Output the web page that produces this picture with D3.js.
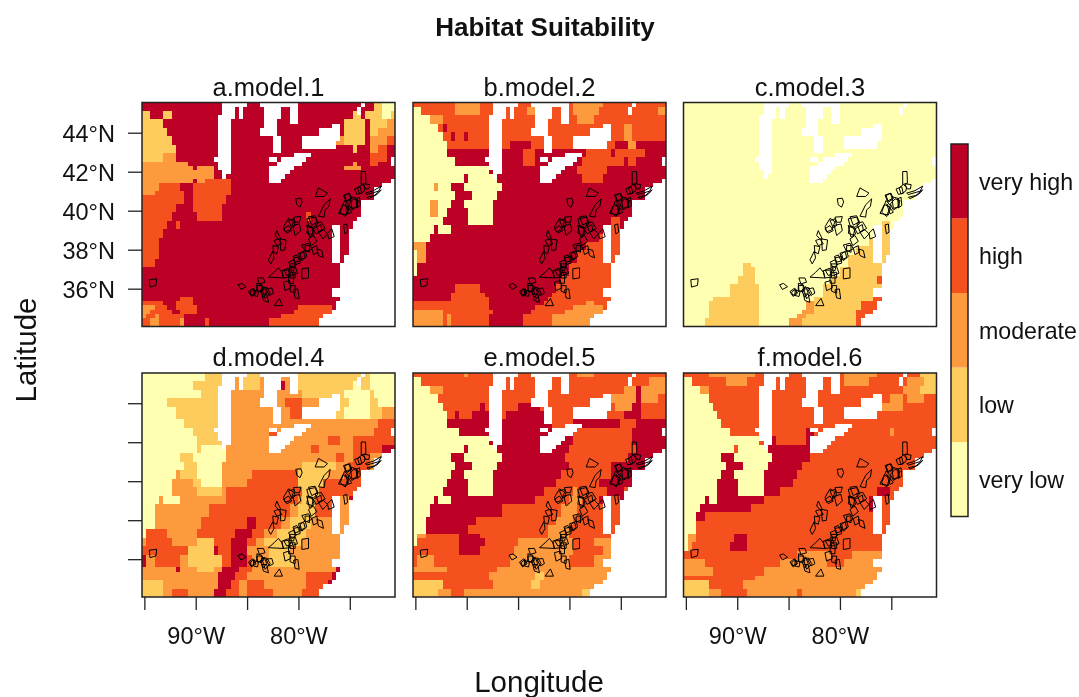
<!DOCTYPE html>
<html>
<head>
<meta charset="utf-8">
<script src="https://d3js.org/d3.v7.min.js"></script>
<style>
body { margin: 0; background: #fff; }
svg { display: block; filter: blur(0.45px); }
text { font-family: "Liberation Sans", Arial, sans-serif; fill: #111; }
</style>
</head>
<body>
<div id="chart"></div>
<script>
//classes, lowest first
var levels = ["very low", "low", "moderate", "high", "very high"]
var levelKeys = ["a", "b", "c", "d", "e"]
var levelColors = ["#FFFFB2", "#FECC5C", "#FD9A3E", "#F4511F", "#BD0026"]

var panelTitles = ["a.model.1", "b.model.2", "c.model.3", "d.model.4", "e.model.5", "f.model.6"]
var latTicks = [36, 38, 40, 42, 44]
var lonTicks = [-95, -90, -85, -80, -75]
var lonLabels = {"-90": "90°W", "-80": "80°W"}

//raster rows, top to bottom: [how many grid rows, class letter + end column, ...]
var rowsA = [[2,"e55b57a60"],[2,"b2e5b7e50b52e53b57a59b60"],[2,"b5e48b53e54b58c60"],[2,"b6e48b53e54b56c60"],[2,"b7e46c48b53e54c58d60"],[2,"b8e50b51e54c56d58e60"],[2,"b5c8e54d58e60"],[1,"c11e50c51e54d56e60"],[1,"c12e13c17e48c52e60"],[2,"c17e60"],[1,"c12e13c15d21e60"],[2,"c4d9e12d21e60"],[1,"c3d10e12d21e60"],[2,"d10e12d20e60"],[2,"d8e12d19e60"],[2,"d7e13d19e39d40e60"],[2,"d6e8d9e60"],[2,"d5e60"],[5,"d4e60"],[2,"d3e60"],[7,"e60"],[1,"e9d12e60"],[1,"d5e8d12e46c48e60"],[1,"c3d6e8d13e37d45e60"],[1,"c2d7e9d13e36d45e60"],[1,"c1d3c4d10e33d43e60"],[2,"d2c4d9c10e15d16e30d42e60"]]
var rowsB = [[1,"d10c16d38c45d60"],[2,"a2d10c16d27c29d38c44d58c60"],[2,"a4c7d39c43d60"],[2,"a6d7e8d50c52d60"],[2,"a7d9e10d12e13d50c52d60"],[2,"a8d23e28d48e51c53e60"],[2,"a8e26d29e41d47e48d55e60"],[2,"a10e26d29e40d50e51d53e60"],[2,"a18e39d46e60"],[2,"a12e13a20e40d45e60"],[2,"a5c6a9e12a21e60"],[2,"a10e14a20e60"],[2,"a4c6a9e12a19e60"],[2,"a4c6a8e13a19e60"],[2,"a7e13a19e47d49e60"],[2,"a5e6a9e45d49e60"],[2,"a4e44d60"],[2,"c3e41d60"],[3,"a1c3e39d60"],[3,"a1e37d60"],[2,"e35d60"],[2,"e10d16e34d60"],[1,"e9d17e33d60"],[1,"e9d18e32d60"],[1,"d18e31d41c43d60"],[1,"d18e29d38c45d60"],[1,"c7d19e28d36c45d60"],[3,"c7d8c9d18e26d33c43d60"]]
var rowsC = [[28,"a60"],[4,"a47b49a60"],[2,"a44b49a60"],[2,"a41b49a60"],[2,"a39b49a60"],[1,"a14b16a39b60"],[2,"a14b17a37b60"],[2,"a13b17a35b46d47b60"],[3,"a11b18a33b60"],[1,"a7b18a31b45d47b60"],[2,"a6b18a29c31b42d46b60"],[1,"a6b18a28c31b41d45b60"],[1,"a6b18a27c29b41d43b60"],[2,"a5b18a25c28b41d43b60"]]
var rowsD = [[2,"a15b19c24b28c37b54a60"],[2,"a12b22c24b28c33e34c37b50a52b54a60"],[2,"a14b20c38b48a54b55a60"],[2,"a6b20c34d38c46b49a54b56a60"],[3,"a8b20c35d39c46b48a54b57c60"],[2,"a10b19c56d60"],[2,"a12b18c30d32c55d60"],[2,"a13b20c44d47c50d60"],[2,"a13b14a20c40d42c50d57e60"],[2,"a9b12a20c46d48c50d54c60"],[2,"a10b13a19c38b46c49d54c60"],[2,"a8c9b13a19c26d37b44c48d54e60"],[2,"a7c12b14a19c25d37b43d54e60"],[2,"a7c13b19c20d38b42d54e60"],[2,"a4c5a9c20d37c38b41d45c49e60"],[3,"a3c16d35c37b41d45c49e60"],[3,"a3c14d25e27d33c35b40c60"],[2,"a1d6c13d22e26d29c32b39c60"],[2,"c1d7c13b17d21e25d27c29b38c60"],[2,"d11b17e18d21e25c30b35c47d60"],[3,"e1c3d9c11b19d21e25d26c30b36c47e60"],[1,"c8e9c13b17c19e23d26c46e60"],[2,"c18e22d25c39d45e60"],[2,"b5c18e21d23c25d29c39d44e60"],[2,"b5c7d11c17e20d23c25d31c38d42c60"]]
var rowsE = [[1,"d12c13d39c43d60"],[2,"a2d56c60"],[2,"a4c7d50c53e54c60"],[2,"a6d47c53e54c58d60"],[2,"a7d16e17d25e30d48c52e54d60"],[2,"a8d10e11d14e18d22e32d50e54d60"],[2,"a8e33d38e49d53e60"],[2,"a11e33d52e60"],[2,"a18e38d52e60"],[2,"a12e13a20e37d53e60"],[2,"a9e12a21e36d51e60"],[2,"a10e14a20e37d47e60"],[2,"a9e12a19e35d47e60"],[2,"a8e13a19e34d44e52d60"],[2,"a7e13a19e31d38c39d46e50d60"],[2,"a5e6a9e29d37c40d44e46d49e60"],[3,"a4e21d35c39d60"],[2,"a3e15d34c38d60"],[2,"a3e13d32c37d60"],[1,"a1c3d11e16d32c37d60"],[2,"a1d11e17d25c38d43c60"],[2,"d11e16d24c38d45c60"],[3,"d1c5d23c37d43c60"],[1,"c8d20c60"],[2,"d18c29b31c60"],[2,"b7d19c28b30c60"],[2,"b6c9d12c40b42c60"]]
var rowsF = [[1,"d6c17d38c46d56b60"],[2,"a2d10c15d38c44d53c57b60"],[2,"a4c6d52c56b60"],[2,"a6d49c52d53c57d60"],[2,"a7d47c52d60"],[2,"a8d60"],[2,"a9d60"],[2,"a11d29e31d49c50d60"],[2,"a18d20e22d29e31d60"],[2,"a12d13a20e30d60"],[2,"a9e12a21e30d60"],[2,"a10e14a20e28d60"],[2,"a9e12a19e27d60"],[2,"a8e13a19e26d60"],[2,"a8e13a19e23d46e49d60"],[2,"a5e6a8e19d44e46d60"],[2,"a4e16d44e45d60"],[2,"a3e5d60"],[3,"a3d60"],[2,"a1c3d12e15d60"],[2,"a1c2d11e15d60"],[2,"d27c35d40c60"],[2,"c5d23c34d38c60"],[2,"c7d19c60"],[1,"d17c60"],[2,"b6d14c60"],[2,"b6c9d15c27d28c41b43c60"]]
var panelRows = [rowsA, rowsB, rowsC, rowsD, rowsE, rowsF]

//no data cells (lakes and ocean), same in every panel: w = no data, o = keep
var waterRows = [[1,"o19w25o28w37o52w53o60"],[2,"o19w22o23w24o29w33o35w37o51w52o60"],[1,"o18w22o23w24o29w33o35w37o60"],[1,"o18w21o29w32o35w37o60"],[1,"o18w21o29w32o45w47o60"],[2,"o18w21o28w32o42w47o60"],[1,"o18w21o31w33o38w47o60"],[2,"o18w21o31w33o38w46o60"],[1,"o18w21o31w33o60"],[1,"o18w21o36w40o60"],[1,"o17w21o30w32o33w39o59w60"],[1,"o18w21o32w38o59w60"],[1,"o18w21o30w36o60"],[1,"o19w21o30w35o60"],[1,"o19w20o30w34o60"],[1,"o30w33o59w60"],[1,"o57w60"],[3,"o55w60"],[4,"o52w60"],[1,"o51w60"],[1,"o50w60"],[1,"o45w47o50w60"],[6,"o45w47o49w60"],[2,"o45w47o48w60"],[6,"o47w60"],[2,"o45w60"],[1,"o47w60"],[2,"o46w60"],[1,"o45w60"],[1,"o43w60"],[2,"o42w60"]]

//site outlines, lon/lat, drawn in every panel
var sites = [
[[-78.37,40.73],[-78.05,41.17],[-77.17,40.90],[-77.50,40.73]],
[[-80.26,40.61],[-79.77,40.64],[-79.64,40.44],[-79.84,40.18],[-80.16,40.30]],
[[-78.05,39.72],[-77.50,40.30],[-76.91,40.61],[-77.04,40.21],[-77.40,40.04],[-77.50,39.67]],
[[-73.89,42.01],[-73.47,42.01],[-73.43,41.41],[-73.89,41.34]],
[[-74.25,41.17],[-73.82,41.34],[-73.50,41.20],[-73.60,41.00],[-74.05,40.86]],
[[-73.66,41.38],[-73.07,41.34],[-73.14,41.12],[-73.50,41.12]],
[[-73.50,40.90],[-72.69,41.03],[-71.94,41.26],[-72.20,41.00],[-73.33,40.83]],
[[-73.33,40.69],[-72.62,40.78],[-71.94,41.07],[-72.36,40.83],[-73.17,40.62]],
[[-75.51,40.78],[-75.03,40.90],[-74.80,40.61],[-75.29,40.44]],
[[-75.94,39.92],[-75.51,40.52],[-75.09,40.26],[-75.45,39.70]],
[[-75.09,40.35],[-74.64,40.61],[-74.15,40.52],[-74.37,40.18],[-74.80,40.04]],
[[-74.37,40.61],[-74.05,40.69],[-73.98,40.26],[-74.31,40.14]],
[[-75.45,40.35],[-75.12,40.14],[-74.80,39.92],[-75.12,39.84]],
[[-75.61,39.27],[-75.29,39.32],[-75.22,38.90],[-75.48,38.81]],
[[-79.19,39.58],[-78.37,39.67],[-78.11,39.32],[-78.54,39.15],[-79.02,39.24]],
[[-78.54,39.07],[-77.82,39.29],[-77.72,38.98],[-78.28,38.81]],
[[-79.19,39.24],[-78.70,39.15],[-78.47,38.81],[-78.92,38.64]],
[[-78.05,38.90],[-77.56,39.02],[-77.17,38.81],[-77.63,38.55]],
[[-77.17,38.85],[-76.75,39.07],[-76.52,38.67],[-77.07,38.55]],
[[-79.02,38.55],[-78.54,38.73],[-78.21,38.43],[-78.76,38.21]],
[[-79.35,38.21],[-78.92,38.21],[-78.92,37.87],[-79.35,37.96]],
[[-78.70,38.09],[-78.21,38.21],[-78.11,37.87],[-78.54,37.75]],
[[-78.21,38.04],[-77.72,37.96],[-77.56,37.58],[-78.05,37.70]],
[[-79.84,37.79],[-79.35,37.96],[-79.19,37.65],[-79.67,37.44]],
[[-80.48,37.58],[-79.84,37.65],[-79.84,37.31],[-80.32,37.24]],
[[-80.87,37.27],[-80.32,37.27],[-80.48,36.93],[-80.87,36.96]],
[[-82.92,36.59],[-82.37,36.84],[-81.95,37.07],[-81.62,36.84],[-81.46,36.55]],
[[-81.62,36.93],[-80.97,36.96],[-80.81,36.59],[-81.46,36.55]],
[[-80.87,36.84],[-80.32,36.84],[-80.32,36.55],[-80.81,36.55]],
[[-81.46,36.33],[-80.87,36.42],[-80.74,36.04],[-81.30,35.90]],
[[-80.81,36.16],[-80.32,36.16],[-80.32,35.77],[-80.81,35.87]],
[[-79.67,37.02],[-79.02,37.07],[-79.02,36.55],[-79.67,36.50]],
[[-80.48,35.94],[-80.06,35.99],[-79.93,35.48],[-80.32,35.53]],
[[-81.46,39.07],[-80.97,39.24],[-80.65,38.98],[-81.14,38.85]],
[[-80.97,39.50],[-80.48,39.58],[-80.32,39.24],[-80.65,39.12]],
[[-80.48,39.67],[-79.77,39.70],[-79.90,39.41],[-80.32,39.41]],
[[-80.55,39.24],[-79.90,39.32],[-79.77,38.98],[-80.32,38.73]],
[[-82.37,38.47],[-81.95,38.55],[-81.62,38.30],[-82.11,38.21]],
[[-82.11,38.98],[-81.72,38.55],[-81.95,38.55],[-82.27,38.73]],
[[-81.79,38.55],[-81.20,38.50],[-81.33,37.99],[-81.72,37.96]],
[[-82.50,38.21],[-81.95,38.16],[-82.11,37.79],[-82.44,37.87]],
[[-82.92,37.48],[-82.50,37.92],[-82.37,37.58],[-82.70,37.27]],
[[-84.00,36.55],[-83.41,36.55],[-83.25,36.33],[-83.80,36.25]],
[[-84.06,36.16],[-83.57,36.16],[-83.57,35.82],[-84.06,35.90]],
[[-84.71,35.82],[-84.32,35.99],[-84.13,35.77],[-84.55,35.60]],
[[-83.74,35.90],[-83.34,36.11],[-83.09,35.77],[-83.41,35.56]],
[[-83.15,35.99],[-82.60,36.04],[-82.44,35.77],[-82.83,35.65]],
[[-83.57,35.73],[-83.09,35.73],[-82.92,35.30],[-83.41,35.39]],
[[-82.37,35.13],[-81.85,35.50],[-81.56,35.13]],
[[-85.88,36.20],[-85.50,36.27],[-85.10,36.10],[-85.60,35.96]],
[[-94.52,36.46],[-93.80,36.51],[-93.87,36.17],[-94.45,36.08]],
[[-81.45,36.96],[-80.96,37.05],[-80.74,36.79],[-81.13,36.67]],
[[-80.96,37.36],[-80.48,37.48],[-80.22,37.22],[-80.64,37.05]],
[[-80.54,37.65],[-80.15,37.73],[-79.89,37.42],[-80.31,37.36]],
[[-79.99,37.82],[-79.50,37.90],[-79.34,37.60],[-79.83,37.48]],
[[-79.67,38.24],[-79.02,38.33],[-78.69,38.04],[-79.34,37.90]],
[[-80.80,37.13],[-80.31,37.13],[-80.09,36.79],[-80.54,36.71]],
[[-80.96,36.71],[-80.48,36.67],[-80.48,36.28],[-80.96,36.28]],
[[-84.86,35.85],[-84.44,36.02],[-84.21,35.77],[-84.63,35.65]],
[[-84.05,36.28],[-83.56,36.19],[-83.40,35.94],[-83.98,35.85]],
[[-83.56,36.02],[-83.07,36.06],[-82.75,35.77],[-83.24,35.48]],
[[-84.37,35.94],[-83.89,35.85],[-83.98,35.60],[-84.37,35.65]],
[[-75.61,40.80],[-75.12,40.89],[-74.87,40.63],[-75.38,40.49]],
[[-76.10,39.86],[-75.68,40.32],[-75.06,40.15],[-75.29,39.78]],
[[-74.96,40.72],[-74.31,40.63],[-74.22,40.20],[-74.80,40.12]],
[[-74.54,41.11],[-73.99,41.23],[-73.83,40.89],[-74.31,40.84]],
[[-79.02,39.69],[-78.37,39.74],[-78.11,39.43],[-78.70,39.26]],
[[-78.37,39.35],[-77.79,39.43],[-77.40,39.09],[-78.05,38.92]],
[[-79.08,39.18],[-78.53,39.09],[-78.69,38.75],[-79.18,38.84]],
[[-81.45,39.18],[-80.96,39.61],[-80.48,39.43],[-80.80,39.01],[-81.29,38.92]]
]

//setting dimensions
var totalWidth = 1079, totalHeight = 697
var panelW = 253, panelH = 224
var panelX = [142, 413, 683.5], panelY = [102.5, 373]
var gridCols = 60, gridRows = 53

var svg = d3.select("#chart").append("svg")
  .attr("width", totalWidth)
  .attr("height", totalHeight)

//scales shared by all panels
var xLon = d3.scaleLinear().domain([-95.23, -70.6]).range([0, panelW])
var yLat = d3.scaleLinear().domain([45.55, 34.06]).range([0, panelH])
var xCol = d3.scaleLinear().domain([0, gridCols]).range([0, panelW])
var yRow = d3.scaleLinear().domain([0, gridRows]).range([0, panelH])
var color = d3.scaleOrdinal().domain(levelKeys).range(levelColors)

//turning [count, "e12d60"] rows into rectangles in grid units
function decodeRows(rows) {
  var out = [], row = 0
  rows.forEach(function(r) {
    var col = 0
    r[1].match(/[a-z]\d+/g).forEach(function(tok) {
      var end = +tok.slice(1)
      out.push({key: tok[0], col0: col, col1: end, row0: row, row1: row + r[0]})
      col = end
    })
    row += r[0]
  })
  return out
}

var water = decodeRows(waterRows).filter(function(d) { return d.key == "w" })
var sitePath = d3.line().x(function(d) { return xLon(d[0]) }).y(function(d) { return yLat(d[1]) })

panelTitles.forEach(function(title, i) {
  var c = i % 3, r = Math.floor(i / 3)
  var g = svg.append("g")
    .attr("transform", "translate(" + panelX[c] + "," + panelY[r] + ")")

  //clip so cells and outlines stay in the box
  g.append("clipPath").attr("id", "clip" + i)
    .append("rect").attr("width", panelW).attr("height", panelH)
  var body = g.append("g").attr("clip-path", "url(#clip" + i + ")")

  //raster cells
  body.selectAll(".cell")
    .data(decodeRows(panelRows[i]))
    .enter().append("rect")
    .attr("class", "cell")
    .attr("x", function(d) { return xCol(d.col0) })
    .attr("y", function(d) { return yRow(d.row0) })
    .attr("width", function(d) { return xCol(d.col1) - xCol(d.col0) })
    .attr("height", function(d) { return yRow(d.row1) - yRow(d.row0) })
    .attr("fill", function(d) { return color(d.key) })
    .attr("shape-rendering", "crispEdges")

  //white no data cells
  body.selectAll(".water")
    .data(water)
    .enter().append("rect")
    .attr("class", "water")
    .attr("x", function(d) { return xCol(d.col0) })
    .attr("y", function(d) { return yRow(d.row0) })
    .attr("width", function(d) { return xCol(d.col1) - xCol(d.col0) })
    .attr("height", function(d) { return yRow(d.row1) - yRow(d.row0) })
    .attr("fill", "#fff")
    .attr("shape-rendering", "crispEdges")

  //site outlines
  body.selectAll(".site")
    .data(sites)
    .enter().append("path")
    .attr("class", "site")
    .attr("d", function(d) { return sitePath(d) + "Z" })
    .attr("fill", "none")
    .attr("stroke", "#000")
    .attr("stroke-width", 1)
    .attr("stroke-linejoin", "round")

  //box
  g.append("rect")
    .attr("width", panelW).attr("height", panelH)
    .attr("fill", "none").attr("stroke", "#222").attr("stroke-width", 1.5)

  //panel title
  g.append("text")
    .attr("x", panelW / 2).attr("y", -7)
    .attr("text-anchor", "middle")
    .style("font-size", "25.5px")
    .text(title)

  //left axis on first column
  if (c == 0) {
    var yAxis = g.append("g")
      .call(d3.axisLeft(yLat).tickValues(latTicks).tickSize(14).tickPadding(13)
        .tickFormat(function(d) { return r == 0 ? d + "°N" : "" }))
    yAxis.select(".domain").remove()
    yAxis.selectAll("line").attr("stroke", "#222").attr("stroke-width", 1.3)
    yAxis.selectAll("text").style("font-size", "23.5px").attr("dy", "0.36em")
  }

  //bottom axis on second row
  if (r == 1) {
    var xAxis = g.append("g")
      .attr("transform", "translate(0," + panelH + ")")
      .call(d3.axisBottom(xLon).tickValues(lonTicks).tickSize(13).tickPadding(17)
        .tickFormat(function(d) { return c == 1 ? "" : (lonLabels[d] || "") }))
    xAxis.select(".domain").remove()
    xAxis.selectAll("line").attr("stroke", "#222").attr("stroke-width", 1.3)
    xAxis.selectAll("text").style("font-size", "23.5px")
  }
})

//legend bar
var legendY = d3.scaleBand().domain(levels.slice().reverse()).range([144, 516.5])
var legend = svg.append("g")
legend.selectAll("rect")
  .data(levels)
  .enter().append("rect")
  .attr("x", 951)
  .attr("y", function(d) { return legendY(d) })
  .attr("width", 17)
  .attr("height", legendY.bandwidth())
  .attr("fill", function(d, i) { return levelColors[i] })
legend.append("rect")
  .attr("x", 951).attr("y", 144).attr("width", 17).attr("height", 372.5)
  .attr("fill", "none").attr("stroke", "#222").attr("stroke-width", 1.5)
legend.selectAll("text")
  .data(levels)
  .enter().append("text")
  .attr("x", 979)
  .attr("y", function(d) { return legendY(d) + legendY.bandwidth() / 2 })
  .attr("dy", "0.36em")
  .style("font-size", "23.2px")
  .text(function(d) { return d })

//overall titles
svg.append("text")
  .attr("x", 545).attr("y", 36)
  .attr("text-anchor", "middle")
  .style("font-size", "26px").style("font-weight", "bold")
  .text("Habitat Suitability")
svg.append("text")
  .attr("x", 539).attr("y", 692)
  .attr("text-anchor", "middle")
  .style("font-size", "29.5px")
  .text("Longitude")
svg.append("text")
  .attr("transform", "translate(36,350) rotate(-90)")
  .attr("text-anchor", "middle")
  .style("font-size", "29.5px")
  .text("Latitude")
</script>
</body>
</html>
